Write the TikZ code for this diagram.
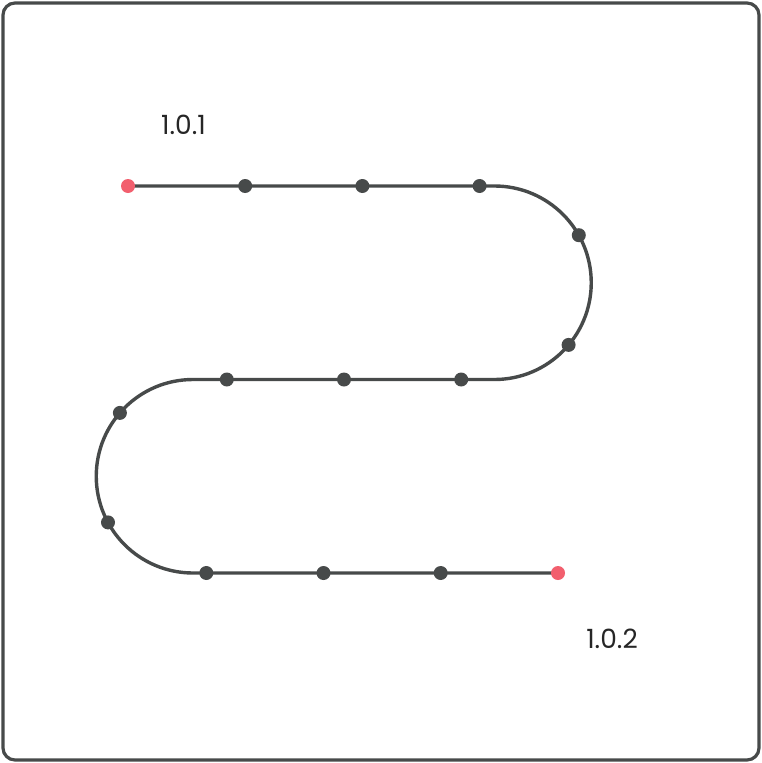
\documentclass[tikz,border=0pt]{standalone}
\usepackage{fontspec}
\setmainfont{Poppins}
\definecolor{ink}{HTML}{474A4A}
\definecolor{endred}{HTML}{F25F6E}
\tikzset{
  frame/.style={draw=ink, line width=3.2pt, rounded corners=12pt},
  route/.style={draw=ink, line width=3.4pt},
  stop/.style={circle, fill=ink, inner sep=0pt, minimum size=14pt},
  terminal/.style={circle, fill=endred, inner sep=0pt, minimum size=14pt},
  lbl/.style={text=black!85, font=\fontsize{26.5}{30}\selectfont, inner sep=0pt}
}
\begin{document}
\begin{tikzpicture}[x=1pt, y=-1pt]
\useasboundingbox (0,0) rectangle (762,763);
\draw[frame] (3,3) rectangle (759,760);
% path corners
\coordinate (s) at (128,186);
\coordinate (a) at (494.5,186);
\coordinate (b) at (494.5,379.5);
\coordinate (c) at (193,379.5);
\coordinate (d) at (193,573);
\coordinate (e) at (558,573);
\draw[route] (s) -- (a) arc[start angle=-90, end angle=90, radius=96.75] -- (c) arc[start angle=270, end angle=90, radius=96.75] -- (e);
% stops
\node[terminal] (p0) at (s) {};
\node[stop] (p1) at (245.2,186) {};
\node[stop] (p2) at (362.4,186) {};
\node[stop] (p3) at (479.6,186) {};
\node[stop] (p4) at (578.8,235.2) {};
\node[stop] (p5) at (568.6,344.9) {};
\node[stop] (p6) at (461.2,379.5) {};
\node[stop] (p7) at (344.0,379.5) {};
\node[stop] (p8) at (226.8,379.5) {};
\node[stop] (p9) at (119.9,412.9) {};
\node[stop] (p10) at (108.0,522.4) {};
\node[stop] (p11) at (206.3,573) {};
\node[stop] (p12) at (323.5,573) {};
\node[stop] (p13) at (440.7,573) {};
\node[terminal] (p14) at (e) {};
% labels
\node[lbl] (l1) at (183.5,125) {1.0.1};
\node[lbl] (l2) at (612,639) {1.0.2};
\end{tikzpicture}
\end{document}
